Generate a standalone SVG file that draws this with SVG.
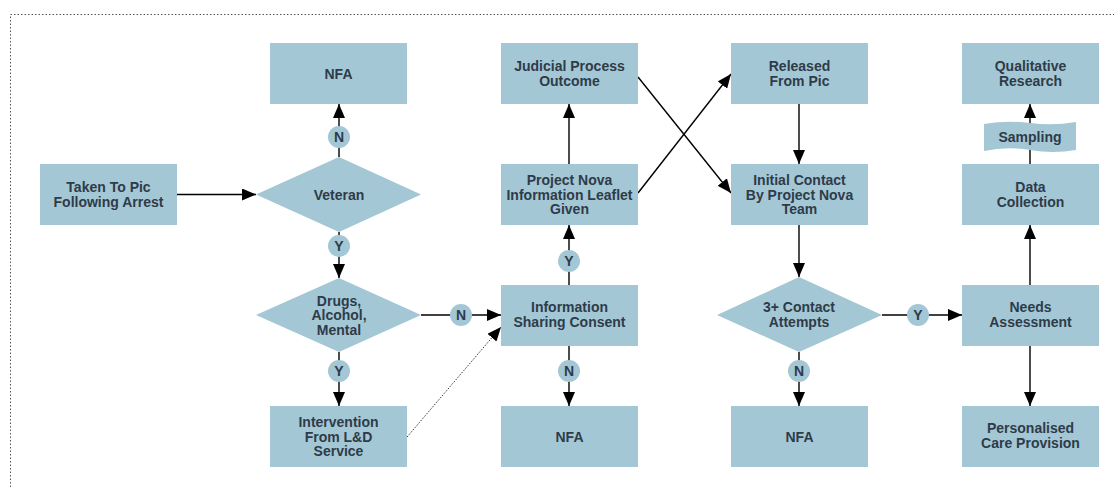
<svg xmlns="http://www.w3.org/2000/svg" width="1114" height="489" viewBox="0 0 1114 489">
<style>
.box{fill:#a4c7d5}
.t{font-family:"Liberation Sans",Arial,sans-serif;font-weight:bold;font-size:14px;fill:#2e3b49;text-anchor:middle}
.c{stroke:#000;stroke-width:1.4;fill:none}
.d{stroke:#333;stroke-width:1;stroke-dasharray:1.5 1.5;fill:none}
</style>
<defs>
<marker id="ah" viewBox="0 0 14 12" refX="14" refY="6" markerWidth="14" markerHeight="12" markerUnits="userSpaceOnUse" orient="auto">
<path d="M0,0 L14,6 L0,12 Z" fill="#000"/>
</marker>
</defs>
<rect x="10.5" y="14.5" width="1120" height="490" fill="none" stroke="#555" stroke-width="1" stroke-dasharray="1.5 2"/>
<g id="connectors">
<line class="c" x1="177" y1="194.5" x2="256" y2="194.5" marker-end="url(#ah)"/>
<line class="c" x1="339" y1="157" x2="339" y2="104" marker-end="url(#ah)"/>
<line class="c" x1="339" y1="232" x2="339" y2="278" marker-end="url(#ah)"/>
<line class="c" x1="339" y1="352" x2="339" y2="406" marker-end="url(#ah)"/>
<line class="c" x1="421" y1="315" x2="501" y2="315" marker-end="url(#ah)"/>
<line class="d" x1="407" y1="437" x2="501" y2="327" marker-end="url(#ah)"/>
<line class="c" x1="569" y1="285" x2="569" y2="225" marker-end="url(#ah)"/>
<line class="c" x1="569" y1="346" x2="569" y2="406" marker-end="url(#ah)"/>
<line class="c" x1="569" y1="164" x2="569" y2="104" marker-end="url(#ah)"/>
<line class="c" x1="638" y1="193" x2="731" y2="74" marker-end="url(#ah)"/>
<line class="c" x1="638" y1="77" x2="731" y2="193" marker-end="url(#ah)"/>
<line class="c" x1="799" y1="104" x2="799" y2="164" marker-end="url(#ah)"/>
<line class="c" x1="799" y1="225" x2="799" y2="277" marker-end="url(#ah)"/>
<line class="c" x1="799" y1="352" x2="799" y2="406" marker-end="url(#ah)"/>
<line class="c" x1="882" y1="315" x2="962" y2="315" marker-end="url(#ah)"/>
<line class="c" x1="1030" y1="285" x2="1030" y2="225" marker-end="url(#ah)"/>
<line class="c" x1="1030" y1="346" x2="1030" y2="406" marker-end="url(#ah)"/>
<line class="c" x1="1030" y1="164" x2="1030" y2="104" marker-end="url(#ah)"/>
</g>
<g id="labels">
<g id="lbl-vet-n"><circle class="box" cx="339" cy="137" r="11"/><text class="t" x="339" y="142">N</text></g>
<g id="lbl-vet-y"><circle class="box" cx="339" cy="246" r="11"/><text class="t" x="339" y="251">Y</text></g>
<g id="lbl-drugs-y"><circle class="box" cx="339" cy="371" r="11"/><text class="t" x="339" y="376">Y</text></g>
<g id="lbl-drugs-n"><circle class="box" cx="461" cy="315" r="11"/><text class="t" x="461" y="320">N</text></g>
<g id="lbl-info-y"><circle class="box" cx="569" cy="261" r="11"/><text class="t" x="569" y="266">Y</text></g>
<g id="lbl-info-n"><circle class="box" cx="569" cy="371" r="11"/><text class="t" x="569" y="376">N</text></g>
<g id="lbl-contact-n"><circle class="box" cx="799" cy="371" r="11"/><text class="t" x="799" y="376">N</text></g>
<g id="lbl-contact-y"><circle class="box" cx="918" cy="315" r="11"/><text class="t" x="918" y="320">Y</text></g>
</g>
<g id="taken"><rect class="box" x="40" y="164" width="137" height="61"/><text class="t" x="108.5" y="192">Taken To Pic</text><text class="t" x="108.5" y="207">Following Arrest</text></g>
<g id="nfa1"><rect class="box" x="270" y="43" width="137" height="61"/><text class="t" x="338.5" y="79">NFA</text></g>
<g id="veteran"><polygon class="box" points="256,194.5 339,157 421,194.5 339,232"/><text class="t" x="339" y="199.5">Veteran</text></g>
<g id="drugs"><polygon class="box" points="256,315 339,278 421,315 339,352"/><text class="t" x="339" y="305.5">Drugs,</text><text class="t" x="339" y="320">Alcohol,</text><text class="t" x="339" y="334.5">Mental</text></g>
<g id="intervention"><rect class="box" x="270" y="406" width="137" height="61"/><text class="t" x="338.5" y="427">Intervention</text><text class="t" x="338.5" y="441.5">From L&amp;D</text><text class="t" x="338.5" y="456">Service</text></g>
<g id="judicial"><rect class="box" x="501" y="43" width="137" height="61"/><text class="t" x="569.5" y="71">Judicial Process</text><text class="t" x="569.5" y="86">Outcome</text></g>
<g id="leaflet"><rect class="box" x="501" y="164" width="137" height="61"/><text class="t" x="569.5" y="185">Project Nova</text><text class="t" x="569.5" y="199.5">Information Leaflet</text><text class="t" x="569.5" y="214">Given</text></g>
<g id="info"><rect class="box" x="501" y="285" width="137" height="61"/><text class="t" x="569.5" y="312">Information</text><text class="t" x="569.5" y="327">Sharing Consent</text></g>
<g id="nfa2"><rect class="box" x="501" y="406" width="137" height="61"/><text class="t" x="569.5" y="441.5">NFA</text></g>
<g id="released"><rect class="box" x="731" y="43" width="137" height="61"/><text class="t" x="799.5" y="71">Released</text><text class="t" x="799.5" y="86">From Pic</text></g>
<g id="initial"><rect class="box" x="731" y="164" width="137" height="61"/><text class="t" x="799.5" y="185">Initial Contact</text><text class="t" x="799.5" y="199.5">By Project Nova</text><text class="t" x="799.5" y="214">Team</text></g>
<g id="contact"><polygon class="box" points="717,315 799,277 882,315 799,352"/><text class="t" x="799" y="312">3+ Contact</text><text class="t" x="799" y="327">Attempts</text></g>
<g id="nfa3"><rect class="box" x="731" y="406" width="137" height="61"/><text class="t" x="799.5" y="441.5">NFA</text></g>
<g id="qualitative"><rect class="box" x="962" y="43" width="137" height="61"/><text class="t" x="1030.5" y="71">Qualitative</text><text class="t" x="1030.5" y="86">Research</text></g>
<g id="sampling"><path class="box" d="M984,124 Q1007,120 1030,123 T1076,122 L1076,150 Q1053,154 1030,150 T984,151 Z"/><text class="t" x="1030" y="142">Sampling</text></g>
<g id="data"><rect class="box" x="962" y="164" width="137" height="61"/><text class="t" x="1030.5" y="192">Data</text><text class="t" x="1030.5" y="207">Collection</text></g>
<g id="needs"><rect class="box" x="962" y="285" width="137" height="61"/><text class="t" x="1030.5" y="312">Needs</text><text class="t" x="1030.5" y="327">Assessment</text></g>
<g id="care"><rect class="box" x="962" y="406" width="137" height="61"/><text class="t" x="1030.5" y="433">Personalised</text><text class="t" x="1030.5" y="448">Care Provision</text></g>
</svg>
